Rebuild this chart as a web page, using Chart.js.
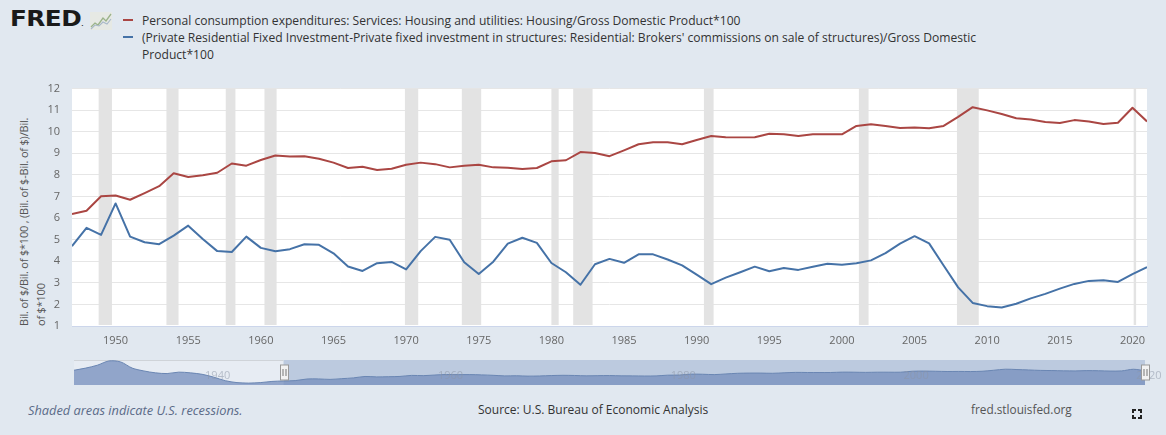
<!DOCTYPE html>
<html>
<head>
<meta charset="utf-8">
<script src="https://cdn.jsdelivr.net/npm/chart.js@4.4.1/dist/chart.umd.min.js"></script>
<style>
  html, body { margin: 0; padding: 0; }
  body {
    width: 1166px; height: 435px; position: relative; overflow: hidden;
    background: #e1e8f0;
    font-family: "Open Sans", sans-serif;
    color: #333;
  }
  .abs { position: absolute; }
  #logo { left: 10px; top: 7px; font-family: "DejaVu Sans", sans-serif; font-weight: bold;
          font-size: 21px; letter-spacing: -0.5px; color: #1a1a1a; transform: scaleX(1.18); transform-origin: 0 0; }
  #logoIcon { left: 90px; top: 12px; }
  #legend { left: 142px; top: 12px; width: 850px; font-size: 12.1px; line-height: 17px; color: #333; }
  .mark { position: absolute; width: 10px; height: 2px; left: 123px; }
  #ytitle { left: 15px; top: 326px; width: 246px; transform: rotate(-90deg); transform-origin: 0 0;
            font-size: 11px; letter-spacing: -0.2px; line-height: 17px; color: #555; white-space: nowrap; }
  #mainBox { left: 0; top: 70px; width: 1166px; height: 280px; }
  #navBox { left: 0; top: 355px; width: 1166px; height: 35px; }
  .foot { top: 401px; font-size: 12px; white-space: nowrap; }
  #fsIcon { left: 1132px; top: 409px; width: 10px; height: 10px; }
  #fsIcon span { position: absolute; width: 2px; height: 2px; border-color: #222; border-style: solid; }
</style>
</head>
<body>

<div id="logo" class="abs">FRED<span style="font-size:5px;">.</span></div>
<svg id="logoIcon" class="abs" width="22" height="18" viewBox="0 0 22 18">
  <rect x="0" y="0" width="22" height="18" fill="#e6e9e4"/>
  <polyline points="1,15 5,11 8,13 13,6 16,9 21,2" fill="none" stroke="#9bb38a" stroke-width="1.3"/>
  <polyline points="1,17 5,13 9,14 13,10 17,12 21,7" fill="none" stroke="#a9b9c9" stroke-width="1.1"/>
</svg>

<div class="mark" style="top:19px; background:#AA4643;"></div>
<div class="mark" style="top:36px; background:#4572A7;"></div>
<div id="legend" class="abs">
  <div id="leg1"></div>
  <div id="leg2"></div>
</div>

<div id="ytitle" class="abs"></div>

<div id="mainBox" class="abs"><canvas id="mainChart"></canvas></div>
<div id="navBox" class="abs"><canvas id="navChart"></canvas></div>

<div class="abs foot" style="left:28px; color:#5b6b88; font-style:italic; font-size:12.8px;">Shaded areas indicate U.S. recessions.</div>
<div class="abs foot" style="left:478px; color:#333;">Source: U.S. Bureau of Economic Analysis</div>
<div class="abs foot" style="left:971px; color:#555; font-size:11.8px;">fred.stlouisfed.org</div>
<div id="fsIcon" class="abs">
  <span style="left:0;top:0;border-width:2px 0 0 2px;"></span>
  <span style="right:0;top:0;border-width:2px 2px 0 0;"></span>
  <span style="left:0;bottom:0;border-width:0 0 2px 2px;"></span>
  <span style="right:0;bottom:0;border-width:0 2px 2px 0;"></span>
</div>

<script>
// ==============================
// DATA
// ==============================
const seriesNames = [
  "Personal consumption expenditures: Services: Housing and utilities: Housing/Gross Domestic Product*100",
  "(Private Residential Fixed Investment-Private fixed investment in structures: Residential: Brokers' commissions on sale of structures)/Gross Domestic Product*100"
];
const yAxisTitle = ["Bil. of $/Bil. of $*100 , (Bil. of $-Bil. of $)/Bil.", "of $*100"];

const firstYear = 1947;
// housing services / GDP * 100, 1947-2021
const housingShare = [
  6.19, 6.34, 7.01, 7.05, 6.85, 7.16, 7.48, 8.08, 7.90, 7.98,
  8.10, 8.53, 8.43, 8.69, 8.90, 8.85, 8.87, 8.75, 8.57, 8.32,
  8.38, 8.23, 8.29, 8.47, 8.57, 8.50, 8.35, 8.42, 8.47, 8.35,
  8.33, 8.28, 8.32, 8.63, 8.68, 9.06, 9.02, 8.87, 9.14, 9.42,
  9.51, 9.51, 9.42, 9.62, 9.80, 9.75, 9.74, 9.75, 9.91, 9.88,
  9.80, 9.88, 9.88, 9.88, 10.27, 10.35, 10.27, 10.17, 10.20, 10.16,
  10.27, 10.69, 11.14, 10.99, 10.82, 10.63, 10.57, 10.45, 10.41, 10.54,
  10.48, 10.36, 10.42, 11.11, 10.48
];
// residential investment ex brokers' commissions / GDP * 100, 1947-2021
const residentialShare = [
  4.70, 5.55, 5.22, 6.68, 5.14, 4.88, 4.79, 5.19, 5.65, 5.03,
  4.47, 4.43, 5.14, 4.62, 4.46, 4.56, 4.79, 4.76, 4.37, 3.76,
  3.55, 3.91, 3.97, 3.62, 4.47, 5.13, 5.00, 3.95, 3.41, 3.98,
  4.82, 5.09, 4.85, 3.92, 3.49, 2.91, 3.86, 4.11, 3.93, 4.32,
  4.32, 4.08, 3.81, 3.38, 2.94, 3.24, 3.49, 3.75, 3.54, 3.69,
  3.60, 3.75, 3.88, 3.84, 3.91, 4.04, 4.38, 4.82, 5.16, 4.83,
  3.80, 2.79, 2.07, 1.92, 1.86, 2.03, 2.28, 2.49, 2.73, 2.95,
  3.09, 3.12, 3.04, 3.40, 3.73
];
// navigator history of the first series, 1929-1946
const navFirstYear = 1929;
const housingShareEarly = [
  10.7, 11.6, 12.8, 14.6, 14.2, 11.6, 10.4, 9.6, 9.3, 9.9,
  9.6, 9.0, 7.8, 6.3, 5.5, 5.3, 5.5, 6.0
];

const xTickYears = [1950, 1955, 1960, 1965, 1970, 1975, 1980, 1985, 1990, 1995, 2000, 2005, 2010, 2015, 2020];
const yTickValues = [1, 2, 3, 4, 5, 6, 7, 8, 9, 10, 11, 12];
const navTickYears = [1940, 1960, 1980, 2000, 2020];

const recessionStarts = ["1948-11", "1953-07", "1957-08", "1960-04", "1969-12", "1973-11", "1980-01", "1981-07", "1990-07", "2001-03", "2007-12", "2020-02"];
const recessionEnds   = ["1949-10", "1954-05", "1958-04", "1961-02", "1970-11", "1975-03", "1980-07", "1982-11", "1991-03", "2001-11", "2009-06", "2020-04"];

// ==============================
// HELPERS
// ==============================
function monthToYear(s) {
  const [y, m] = s.split("-").map(Number);
  return y + (m - 1) / 12;
}

function toPoints(startYear, values) {
  return values.map((v, i) => ({ x: startYear + i, y: v }));
}

const tickFont = { family: "'Open Sans'", size: 11 };

// ==============================
// TEXT
// ==============================
document.getElementById("leg1").textContent = seriesNames[0];
document.getElementById("leg2").textContent = seriesNames[1];
document.getElementById("ytitle").innerHTML = yAxisTitle.map(t => `<div>${t}</div>`).join("");

// ==============================
// PLUGINS
// ==============================
const plotBackground = {
  id: "plotBackground",
  beforeDraw(chart) {
    const { ctx, chartArea } = chart;
    ctx.save();
    ctx.fillStyle = "#ffffff";
    ctx.fillRect(chartArea.left, chartArea.top, chartArea.width, chartArea.height);
    ctx.restore();
  }
};

const recessionBands = {
  id: "recessionBands",
  beforeDatasetsDraw(chart) {
    const { ctx, chartArea, scales: { x } } = chart;
    ctx.save();
    ctx.fillStyle = "#e3e3e3";
    recessionStarts.forEach((s, i) => {
      const x1 = Math.max(x.getPixelForValue(monthToYear(s)), chartArea.left);
      const x2 = Math.min(x.getPixelForValue(monthToYear(recessionEnds[i])), chartArea.right);
      ctx.fillRect(x1, chartArea.top, Math.max(x2 - x1, 1.5), chartArea.height - 1);
    });
    ctx.restore();
  }
};

// ==============================
// MAIN CHART
// ==============================
new Chart(document.getElementById("mainChart"), {
  type: "line",
  data: {
    datasets: [
      {
        label: seriesNames[0],
        data: toPoints(firstYear, housingShare),
        borderColor: "#AA4643",
        borderWidth: 2
      },
      {
        label: seriesNames[1],
        data: toPoints(firstYear, residentialShare),
        borderColor: "#4572A7",
        borderWidth: 2
      }
    ]
  },
  options: {
    responsive: true,
    maintainAspectRatio: false,
    animation: false,
    layout: { padding: { top: 10, right: 19, left: 0, bottom: 0 } },
    elements: { point: { radius: 0 }, line: { tension: 0, borderJoinStyle: "round" } },
    plugins: { legend: { display: false }, tooltip: { enabled: false } },
    scales: {
      x: {
        type: "linear",
        min: firstYear,
        max: firstYear + housingShare.length - 1,
        afterBuildTicks: s => { s.ticks = xTickYears.map(v => ({ value: v })); },
        afterFit: s => { s.height = 24; },
        grid: { display: false, drawTicks: false },
        border: { display: true, color: "#ccd6eb", width: 1 },
        ticks: {
          padding: 8,
          maxRotation: 0,
          autoSkip: false,
          color: "#666",
          font: tickFont,
          callback: v => String(v)
        }
      },
      y: {
        min: 1,
        max: 12,
        afterBuildTicks: s => { s.ticks = yTickValues.map(v => ({ value: v })); },
        afterFit: s => { s.width = 72; },
        grid: { color: "#e6e6e6", drawTicks: false },
        border: { display: false },
        ticks: {
          padding: 12,
          color: "#666",
          font: tickFont,
          callback: v => String(v)
        }
      }
    }
  },
  plugins: [plotBackground, recessionBands]
});

// ==============================
// NAVIGATOR
// ==============================
const navValues = housingShareEarly.concat(housingShare);

const navigatorDecor = {
  id: "navigatorDecor",
  beforeDatasetsDraw(chart) {
    const { ctx, chartArea, scales: { x } } = chart;
    const xSel = x.getPixelForValue(firstYear);
    ctx.save();
    ctx.fillStyle = "#e7ecf3";
    ctx.fillRect(chartArea.left, chartArea.top, xSel - chartArea.left, chartArea.height);
    ctx.fillStyle = "#bccadf";
    ctx.fillRect(xSel, chartArea.top, chartArea.right - xSel, chartArea.height);
    ctx.strokeStyle = "#cfd3d8";
    ctx.lineWidth = 1;
    ctx.beginPath();
    ctx.moveTo(chartArea.left, chartArea.top + 0.5);
    ctx.lineTo(xSel, chartArea.top + 0.5);
    ctx.stroke();
    ctx.restore();
  },
  afterDatasetsDraw(chart) {
    const { ctx, chartArea, scales: { x } } = chart;
    ctx.save();
    ctx.font = "11px 'Open Sans'";
    ctx.fillStyle = "rgba(140,150,165,0.55)";
    ctx.textBaseline = "middle";
    navTickYears.forEach(yr => {
      ctx.fillText(String(yr), x.getPixelForValue(yr) + 3, chartArea.top + 16);
    });
    const handles = [x.getPixelForValue(firstYear), x.getPixelForValue(firstYear + housingShare.length - 1)];
    handles.forEach(hx => {
      const cx = Math.round(hx) + 0.5;
      ctx.fillStyle = "#f2f2f2";
      ctx.strokeStyle = "#999";
      ctx.lineWidth = 1;
      ctx.fillRect(cx - 4, chartArea.top + 5, 8, 15);
      ctx.strokeRect(cx - 4, chartArea.top + 5, 8, 15);
      ctx.beginPath();
      ctx.moveTo(cx - 1.5, chartArea.top + 9); ctx.lineTo(cx - 1.5, chartArea.top + 16);
      ctx.moveTo(cx + 1.5, chartArea.top + 9); ctx.lineTo(cx + 1.5, chartArea.top + 16);
      ctx.strokeStyle = "#777";
      ctx.stroke();
    });
    ctx.restore();
  }
};

new Chart(document.getElementById("navChart"), {
  type: "line",
  data: {
    datasets: [{
      data: toPoints(navFirstYear, navValues),
      borderColor: "#6a86b3",
      borderWidth: 1,
      backgroundColor: "rgba(120,145,190,0.78)",
      fill: "start"
    }]
  },
  options: {
    responsive: true,
    maintainAspectRatio: false,
    animation: false,
    layout: { padding: { top: 5, right: 21, left: 74, bottom: 5 } },
    elements: { point: { radius: 0 }, line: { tension: 0.3 } },
    plugins: { legend: { display: false }, tooltip: { enabled: false } },
    scales: {
      x: { type: "linear", display: false, min: navFirstYear, max: firstYear + housingShare.length - 1 },
      y: { display: false, min: 4.5, max: 15 }
    }
  },
  plugins: [navigatorDecor]
});
</script>
</body>
</html>
